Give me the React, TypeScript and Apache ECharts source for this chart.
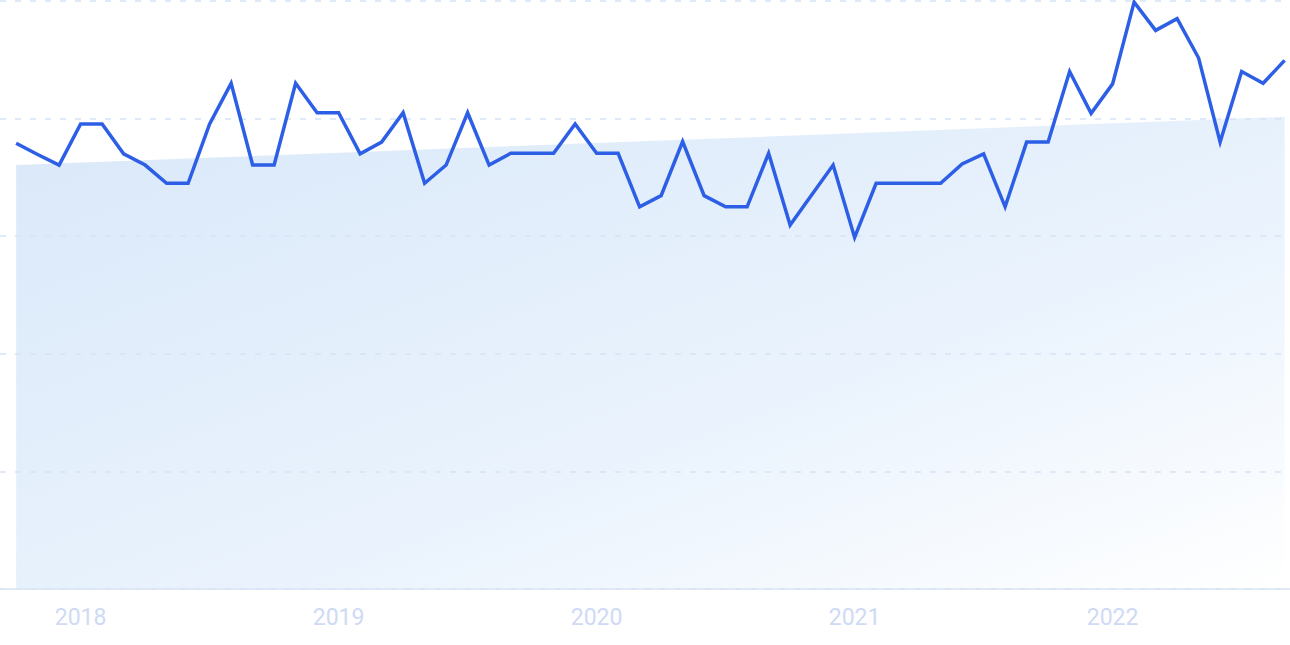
import React, { useEffect, useRef } from "react";
import * as echarts from "echarts";

const values: number[] = [
  75.8, 73.9, 72.1, 79.1, 79.1, 74.0, 72.1, 69.0, 69.0, 79.1,
  86.0, 72.1, 72.1, 86.0, 81.0, 81.0, 74.0, 76.0, 81.0, 69.0,
  72.1, 81.0, 72.1, 74.1, 74.1, 74.1, 79.1, 74.1, 74.1, 65.0,
  66.9, 76.1, 66.9, 65.0, 65.0, 74.1, 61.9, 67.0, 72.1, 59.8,
  69.0, 69.0, 69.0, 69.0, 72.3, 74.0, 65.0, 76.0, 76.0, 88.0,
  80.9, 85.9, 99.8, 95.0, 97.0, 90.3, 76.0, 88.0, 86.0, 89.9,
];

const trendStart: [number, number] = [0, 72.1];
const trendEnd: [number, number] = [59, 80.3];

const yearLabels: string[] = ["2018", "2019", "2020", "2021", "2022"];
const yearIndices: number[] = [3, 15, 27, 39, 51];

export default function App() {
  const ref = useRef<HTMLDivElement>(null);
  useEffect(() => {
    if (!ref.current) return;
    const chart = echarts.init(ref.current, undefined, { renderer: "svg" });
    const lineData = values.map((v, i) => [i, v]);
    chart.setOption({
      animation: false,
      grid: { left: 0, right: 0, top: 1, bottom: 56 },
      xAxis: {
        type: "value",
        min: -0.75,
        max: 59.25,
        z: 4,
        splitLine: { show: false },
        axisTick: { show: false },
        axisLine: { show: true, lineStyle: { color: "#d8e3f5", width: 1.5 } },
        axisLabel: {
          customValues: yearIndices,
          formatter: (v: number) => {
            const k = yearIndices.indexOf(Math.round(v));
            return k >= 0 ? yearLabels[k] : "";
          },
          color: "#cfdaf5",
          fontSize: 23,
          fontFamily: "Roboto, sans-serif",
          margin: 17,
        },
      },
      yAxis: {
        type: "value",
        min: 0,
        max: 100,
        interval: 20,
        z: 2,
        axisLabel: { show: false },
        axisLine: { show: false },
        axisTick: { show: false },
        splitLine: {
          show: true,
          lineStyle: { color: "#d5e3f7", type: [6, 9], width: 1.5 },
        },
      },
      series: [
        {
          type: "line",
          data: [trendStart, trendEnd],
          symbol: "none",
          lineStyle: { width: 0, opacity: 0 },
          areaStyle: {
            opacity: 1,
            color: new echarts.graphic.LinearGradient(0, 0, 1, 1, [
              { offset: 0, color: "#d9e8f9" },
              { offset: 0.6, color: "#eaf3fd" },
              { offset: 1, color: "#ffffff" },
            ]),
          },
          silent: true,
          z: 1,
        },
        {
          type: "line",
          data: lineData,
          symbol: "none",
          lineStyle: { color: "#2d5fe6", width: 3.5, join: "miter" },
          z: 5,
        },
      ],
    });
    return () => chart.dispose();
  }, []);
  return (
    <div
      ref={ref}
      style={{ position: "fixed", left: 0, top: 0, width: 1290, height: 645, background: "#fff" }}
    />
  );
}
